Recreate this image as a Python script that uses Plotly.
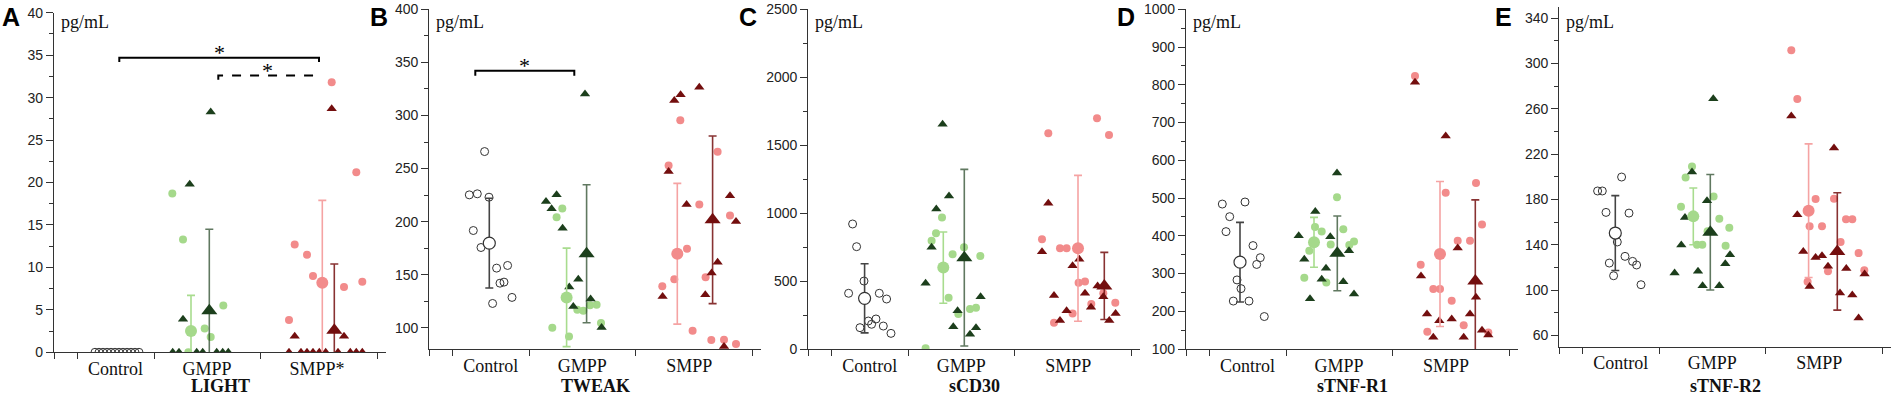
import plotly.graph_objects as go

# ---------------- DATA ----------------
categories = ["Control", "GMPP", "SMPP"]
panel_titles = ["LIGHT", "TWEAK", "sCD30", "sTNF-R1", "sTNF-R2"]
panel_letters = ["A", "B", "C", "D", "E"]
unit_label = "pg/mL"

# --- LIGHT ---
light_ctrl = [0, 0, 0, 0, 0, 0, 0, 0, 0, 0, 0, 0]
light_ctrl_x = [41, 45, 49, 53, 57, 61, 65, 69, 73, 77, 81, 85]
light_gc = [18.7, 13.3, 2.8, 1.8, 5.5, 0.0]
light_gc_x = [118.3, 129, 150.7, 156.7, 169.3, 134.3]
light_gt = [19.8, 28.3, 3.9, 0, 0, 0, 0, 0, 0, 0]
light_gt_x = [135.7, 156.7, 129, 118.7, 125, 142.7, 148.7, 162.7, 168.7, 174.3]
light_sc = [31.8, 21.2, 12.7, 11.5, 9.0, 7.7, 8.3, 3.8]
light_sc_x = [277.7, 302.3, 240.7, 253, 259, 290, 308.3, 235]
light_st = [28.7, 1.9, 1.9, 0, 0, 0, 0, 0, 0, 0, 0, 0, 0]
light_st_x = [277.7, 240.7, 290, 235, 247, 253, 259, 265.3, 271.7, 284, 296.3, 302.3, 308.3]
light_mean = [None, 2.5, 4.9, 8.2, 2.6]
light_sd = [None, 4.2, 9.6, 9.7, 7.8]
light_mean_x = [61, 137, 155.3, 268.3, 280.3]

# --- TWEAK ---
tweak_ctrl = [266.0, 225.2, 226.2, 223.0, 191.6, 175.6, 156.2, 158.7, 142.0, 143.0, 122.9, 128.6]
tweak_ctrl_x = [55.3, 40, 48, 59.7, 44, 51.7, 67.3, 78.3, 70.7, 74.7, 63.3, 82.7]
tweak_gc = [212.3, 204.2, 100.0, 91.8, 117.0, 116.0, 121.3, 121.7, 104.4]
tweak_gc_x = [133, 127.3, 123, 139.7, 148, 154, 160.7, 167.3, 171.7]
tweak_gt = [219.0, 225.2, 212.0, 193.8, 320.3, 138.3, 145.8, 120.1, 127.0, 100.3]
tweak_gt_x = [116.7, 127.3, 122.3, 133.3, 155.7, 140, 149, 144, 161.3, 172.3]
tweak_sc = [295.5, 252.8, 216.1, 174.4, 145.8, 139.0, 265.7, 147.7, 205.8, 97.2, 88.4, 88.7, 84.6]
tweak_sc_x = [251, 239.3, 270, 257.7, 245, 233, 288.3, 276.3, 300.7, 263.3, 282, 294.7, 306.7]
tweak_st = [314.0, 319.4, 326.6, 247.2, 216.1, 129.5, 131.1, 151.5, 161.8, 224.3, 200.1, 82.4]
tweak_st_x = [245, 251.3, 270, 239.3, 257.3, 233.3, 276, 282.3, 288.3, 300.7, 306.7, 294.7]
tweak_mean = [179.7, 128.6, 169.7, 169.7, 201.7]
tweak_sd = [42.3, 46.4, 65.0, 66.3, 79.0]
tweak_mean_x = [60, 137.3, 157.3, 248, 283.3]

# --- sCD30 ---
scd30_ctrl = [920, 753, 500, 410, 410, 368, 206, 221, 182, 157, 169, 115]
scd30_ctrl_x = [44.3, 48.3, 55.7, 40.3, 71, 78.3, 60, 67.7, 63.3, 51.7, 75, 82.7]
scd30_gc = [967, 851, 797, 697, 748, 685, 378, 258, 294, 304, 5]
scd30_gc_x = [133.7, 127.7, 123.3, 144.3, 155.7, 172, 140.3, 150, 161.7, 167.7, 117.3]
scd30_gt = [1654, 1126, 1030, 748, 483, 282, 164, 108, 157, 385]
scd30_gt_x = [134.3, 140.7, 128, 123.3, 117.3, 149.3, 145, 161.7, 167.7, 172.3]
scd30_sc = [1587, 1698, 1575, 807, 741, 741, 262, 194, 488, 496, 331, 410, 341]
scd30_sc_x = [240, 288.7, 300.7, 233.7, 251.7, 258.3, 264.3, 245.7, 270.3, 276.7, 283, 295, 307]
scd30_st = [1072, 716, 393, 282, 209, 613, 660, 410, 307, 464, 385, 209, 262]
scd30_st_x = [240, 233.7, 245.7, 258.3, 251.7, 264.3, 271, 276.7, 282.7, 289.3, 295, 301, 307.3]
scd30_mean = [373, 599, 672, 741, 464]
scd30_sd = [254, 262, 650, 537, 247]
scd30_mean_x = [56.3, 135, 156, 269.7, 296]

# --- sTNF-R1 ---
tnfr1_ctrl = [484, 489.5, 450.6, 411, 374, 342, 324, 283, 260, 227, 227, 186]
tnfr1_ctrl_x = [36.3, 59, 43.7, 40, 67, 74.3, 70.7, 51, 55, 47.3, 63, 78.3]
tnfr1_gc = [502, 423, 411, 360.6, 377, 417, 375.6, 385, 289, 276]
tnfr1_gc_x = [151, 129, 135.7, 123.3, 144.7, 157.3, 163.3, 168, 118.3, 140.3]
tnfr1_gt = [566, 464, 400, 397.6, 337.6, 313.7, 284.6, 360.5, 278.4, 245.7, 233.4]
tnfr1_gt_x = [151, 129.3, 112.7, 144.3, 118.3, 140, 135.7, 163, 157.3, 168, 124]
tnfr1_sc = [823, 514, 540, 430, 387, 387, 323.5, 259, 259, 228, 163, 146, 144]
tnfr1_sc_x = [229, 259.7, 290, 296, 271.7, 284, 234.7, 247.3, 254, 265.7, 277.7, 241.3, 302.3]
tnfr1_st = [806.6, 664, 367.6, 293.4, 192.7, 175, 179.5, 192.7, 237, 131, 131, 150, 137]
tnfr1_st_x = [229, 259.7, 271.7, 235, 241, 253.3, 265.7, 284, 290, 277.7, 247.3, 296, 302.3]
tnfr1_mean = [330, 382.6, 353.5, 351.7, 280]
tnfr1_sd = [105.5, 66, 99, 192, 215]
tnfr1_mean_x = [54, 128, 151.3, 254, 289.3]

# --- sTNF-R2 ---
tnfr2_ctrl = [187.4, 187.4, 199.7, 168.5, 167.9, 142.4, 129.7, 125.3, 122.1, 123.8, 112.6, 104.7]
tnfr2_ctrl_x = [38.3, 43, 62.3, 46.7, 69.7, 58, 65.7, 73.3, 77.3, 50, 54.3, 81.7]
tnfr2_gc = [209.1, 199.4, 173.5, 182.6, 162.9, 155, 139.1, 140, 140, 151.8]
tnfr2_gc_x = [132.7, 126.3, 121.7, 154.3, 160, 170, 166.3, 137.7, 143, 148.3]
tnfr2_gt = [268.8, 204.1, 164.1, 178.8, 139.7, 115, 116.5, 103.8, 103.8, 123.2, 131.2]
tnfr2_gt_x = [154, 132.7, 125.7, 147.7, 122, 115.3, 138.7, 143.3, 160, 166, 170.7]
tnfr2_sc = [311.5, 268.5, 180.3, 180.6, 156.2, 156.2, 142.4, 162.4, 162.4, 132.6, 117.4, 116.5, 107.4]
tnfr2_sc_x = [232, 238, 256.3, 274.7, 250.3, 262.7, 281.3, 286.7, 293, 299.3, 305, 268.7, 248.3]
tnfr2_st = [253.5, 225.3, 166.5, 134.1, 128.8, 130.3, 120.9, 119.1, 103.2, 97.4, 95.6, 75.3, 114.1]
tnfr2_st_x = [232, 274.7, 238, 244, 256.3, 262.7, 268.7, 287, 250.3, 280.7, 293, 299.3, 305.3]
tnfr2_mean = [150.3, 165, 151, 170, 134.1]
tnfr2_sd = [33, 25, 51, 59, 51.8]
tnfr2_mean_x = [56, 134, 151, 249.3, 278]

# significance brackets: (panel index, x1, x2, y level, drop, dashed)
sig_brackets = [
    (0, 65.3, 265.0, 34.7, 0.5, False),
    (0, 164.3, 262.7, 32.6, 0.5, True),
    (1, 46.0, 145.0, 342.0, 4.5, False),
]

# ---------------- STYLE / LAYOUT ----------------
W, H = 1894, 397
AX_LEN = 332
group_bounds = [0, 23, 100, 206, 323]
label_pos = [61.5, 153, 260]

panels = [
    dict(x0=54.0, top=12.7, bot=352.3, yr=[0, 40], dtick=5, tick0=0,
         data=(light_ctrl, light_ctrl_x, light_gc, light_gc_x, light_gt, light_gt_x,
               light_sc, light_sc_x, light_st, light_st_x, light_mean, light_sd, light_mean_x),
         cats=["Control", "GMPP", "SMPP*"], lab=[61.5, 153, 263], letter_x=0),
    dict(x0=429.3, top=9.3, bot=349.0, yr=[80, 400], dtick=50, tick0=0,
         data=(tweak_ctrl, tweak_ctrl_x, tweak_gc, tweak_gc_x, tweak_gt, tweak_gt_x,
               tweak_sc, tweak_sc_x, tweak_st, tweak_st_x, tweak_mean, tweak_sd, tweak_mean_x),
         cats=categories, lab=label_pos, letter_x=368),
    dict(x0=808.3, top=9.3, bot=349.0, yr=[0, 2500], dtick=500, tick0=0,
         data=(scd30_ctrl, scd30_ctrl_x, scd30_gc, scd30_gc_x, scd30_gt, scd30_gt_x,
               scd30_sc, scd30_sc_x, scd30_st, scd30_st_x, scd30_mean, scd30_sd, scd30_mean_x),
         cats=categories, lab=label_pos, letter_x=737),
    dict(x0=1186.0, top=9.3, bot=349.0, yr=[100, 1000], dtick=100, tick0=0,
         data=(tnfr1_ctrl, tnfr1_ctrl_x, tnfr1_gc, tnfr1_gc_x, tnfr1_gt, tnfr1_gt_x,
               tnfr1_sc, tnfr1_sc_x, tnfr1_st, tnfr1_st_x, tnfr1_mean, tnfr1_sd, tnfr1_mean_x),
         cats=categories, lab=label_pos, letter_x=1115),
    dict(x0=1559.3, top=6.7, bot=346.7, yr=[50, 350], dtick=40, tick0=20,
         data=(tnfr2_ctrl, tnfr2_ctrl_x, tnfr2_gc, tnfr2_gc_x, tnfr2_gt, tnfr2_gt_x,
               tnfr2_sc, tnfr2_sc_x, tnfr2_st, tnfr2_st_x, tnfr2_mean, tnfr2_sd, tnfr2_mean_x),
         cats=categories, lab=label_pos, letter_x=1493),
]

LIGHT_GREEN = "#a5d98b"
DARK_GREEN = "#1c3f1c"
PINK = "#f28b8b"
DARK_RED = "#730e0e"
AXIS_COLOR = "#333333"
SANS = "Liberation Sans, Arial, sans-serif"
SERIF = "Liberation Serif, Times New Roman, serif"

group_styles = [
    # (point symbol, point color, mean symbol, mean color, error color)
    ("circle-open", "#333333", "circle", "white", "#444444"),
    ("circle", LIGHT_GREEN, "circle", LIGHT_GREEN, "#a8dc8e"),
    ("triangle-up", DARK_GREEN, "triangle-up", DARK_GREEN, "rgba(28,63,28,0.7)"),
    ("circle", PINK, "circle", PINK, "#f5a3a3"),
    ("triangle-up", DARK_RED, "triangle-up", DARK_RED, "rgba(115,14,14,0.85)"),
]

fig = go.Figure()
annotations = []
shapes = []

for i, p in enumerate(panels):
    n = "" if i == 0 else str(i + 1)
    xa, ya = "x" + n, "y" + n
    d = p["data"]
    groups = [(d[0], d[1]), (d[2], d[3]), (d[4], d[5]), (d[6], d[7]), (d[8], d[9])]
    means, sds, mxs = d[10], d[11], d[12]
    # individual points
    for g, (vals, xs) in enumerate(groups):
        sym, col, _, _, _ = group_styles[g]
        size = 9 if sym.startswith("triangle") else 8
        marker = dict(symbol=sym, size=size, color=col)
        if sym == "circle-open":
            marker["line"] = dict(color=col, width=1)
        else:
            marker["line"] = dict(width=0)
        fig.add_trace(go.Scatter(x=xs, y=vals, mode="markers", marker=marker,
                                 xaxis=xa, yaxis=ya, showlegend=False, hoverinfo="y"))
    # means with SD error bars
    for g in range(5):
        if means[g] is None:
            continue
        _, _, msym, mcol, ecol = group_styles[g]
        msize = 14 if msym.startswith("triangle") else 12
        mline = dict(color="#333333", width=1.2) if g == 0 else dict(width=0)
        fig.add_trace(go.Scatter(
            x=[mxs[g]], y=[means[g]], mode="markers",
            marker=dict(symbol=msym, size=msize, color=mcol, line=mline),
            error_y=dict(type="data", array=[sds[g]], symmetric=True,
                         color=ecol, thickness=1.6, width=4),
            xaxis=xa, yaxis=ya, showlegend=False, hoverinfo="y"))

    dom_x = [p["x0"] / W, (p["x0"] + AX_LEN) / W]
    dom_y = [1 - p["bot"] / H, 1 - p["top"] / H]
    fig.layout["xaxis" + n] = dict(
        domain=dom_x, range=[0, AX_LEN], anchor=ya, automargin=False,
        showline=True, linecolor=AXIS_COLOR, linewidth=1.3,
        showgrid=False, zeroline=False,
        tickmode="array", tickvals=p["lab"], ticktext=p["cats"],
        ticks="outside", ticklen=0, tickcolor="rgba(0,0,0,0)",
        tickfont=dict(family=SERIF, size=18, color="#111111"),
        minor=dict(tickmode="array", tickvals=group_bounds, ticks="outside",
                   ticklen=6, tickcolor=AXIS_COLOR, tickwidth=1.3, showgrid=False),
        fixedrange=True,
    )
    fig.layout["yaxis" + n] = dict(
        domain=dom_y, range=p["yr"], anchor=xa, automargin=False,
        showline=True, linecolor=AXIS_COLOR, linewidth=1.3,
        showgrid=False, zeroline=False,
        tick0=p["tick0"], dtick=p["dtick"],
        ticks="outside", ticklen=7, tickcolor=AXIS_COLOR, tickwidth=1.3,
        tickfont=dict(family=SANS, size=14, color="#222222"),
        minor=dict(dtick=p["dtick"] / 2, tick0=p["tick0"], ticks="outside",
                   ticklen=4, tickcolor=AXIS_COLOR, tickwidth=1.1, showgrid=False),
        fixedrange=True,
    )
    # axis title (bold, serif) below category labels
    annotations.append(dict(text="<b>" + panel_titles[i] + "</b>", xref=xa + " domain", x=0.5,
                            yref="paper", y=0, xanchor="center", yanchor="bottom",
                            borderpad=0, showarrow=False,
                            font=dict(family=SERIF, size=18, color="#111111")))
    # unit label
    annotations.append(dict(text=unit_label, xref=xa, x=5, yref="paper", y=1 - 22 / H,
                            xanchor="left", yanchor="middle", showarrow=False,
                            font=dict(family=SERIF, size=18, color="#111111")))
    # panel letter
    annotations.append(dict(text="<b>" + panel_letters[i] + "</b>", xref="paper",
                            x=p["letter_x"] / W, yref="paper", y=1 - 1 / H,
                            xanchor="left", yanchor="top", showarrow=False,
                            font=dict(family=SANS, size=25, color="#000000")))

for (pi, x1, x2, yv, drop, dashed) in sig_brackets:
    n = "" if pi == 0 else str(pi + 1)
    xa, ya = "x" + n, "y" + n
    shapes.append(dict(type="path", xref=xa, yref=ya,
                       path=f"M {x1},{yv - drop} L {x1},{yv} L {x2},{yv} L {x2},{yv - drop}",
                       line=dict(color="#000000", width=2, dash="dash" if dashed else "solid")))
    annotations.append(dict(text="*", xref=xa, x=(x1 + x2) / 2, yref=ya, y=yv,
                            xanchor="center", yanchor="middle", yshift=5, showarrow=False,
                            font=dict(family=SERIF, size=22, color="#000000")))

fig.update_layout(
    template="none",
    width=W, height=H,
    margin=dict(l=0, r=0, t=0, b=0, pad=0),
    paper_bgcolor="white", plot_bgcolor="white",
    showlegend=False,
    annotations=annotations, shapes=shapes,
)

fig.write_html("out.html", config={"displayModeBar": False},
               post_script="document.body.style.margin='0px'; document.body.style.overflow='hidden';")
